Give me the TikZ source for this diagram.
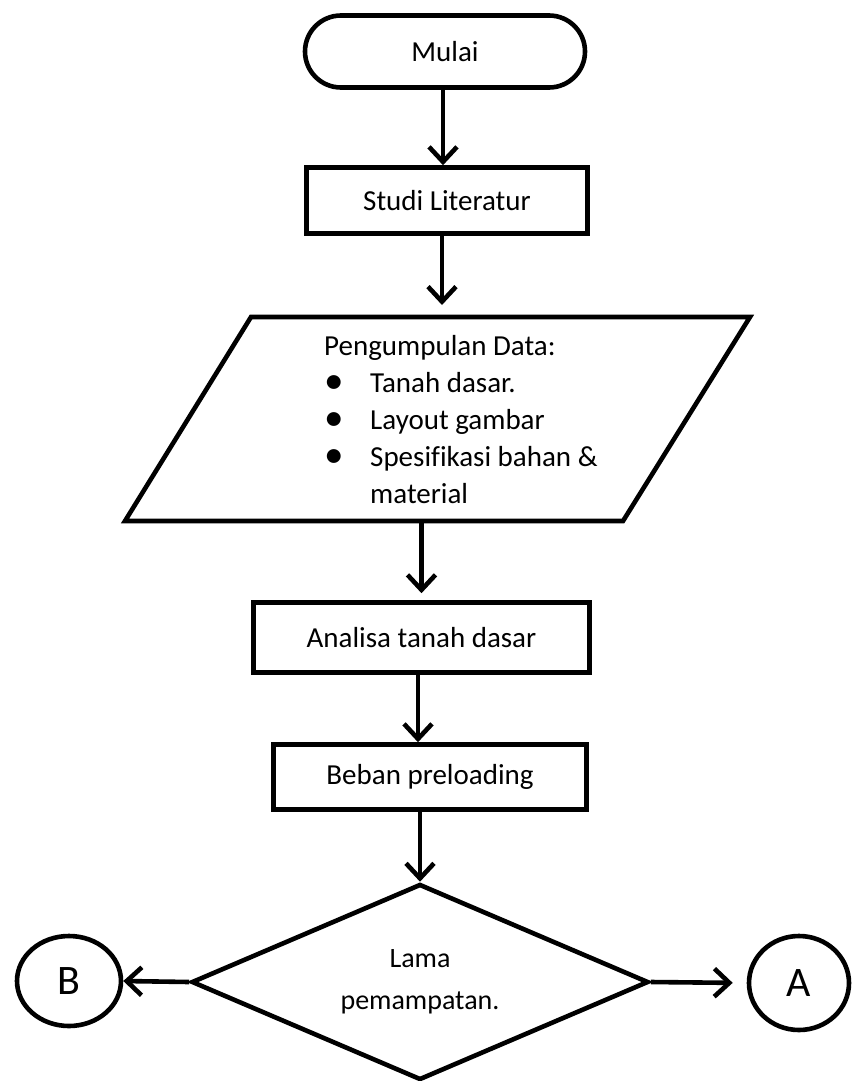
\documentclass[tikz,border=0pt]{standalone}
\usepackage{fontspec}
\setmainfont{Carlito}[Ligatures=NoCommon]
\usetikzlibrary{arrows.meta,shapes.geometric}
\newcommand{\bigbullet}{\raisebox{-0.05em}{\scalebox{1.35}{\textbullet}}}
\begin{document}
\begin{tikzpicture}[x=1pt,y=-1pt,
  every node/.style={font=\fontsize{29}{37}\selectfont},
  thick line/.style={line width=4.6pt},
  procbox/.style={draw, thick line, rectangle, inner sep=0pt},
  arr/.style={thick line, -{Straight Barb[length=15pt,width=28pt]}},
  ]
\useasboundingbox (0,0) rectangle (851,1081);

% start terminal
\node[procbox, rounded corners=36pt, minimum width=280pt, minimum height=72pt] (mulai) at (445,51.5) {Mulai};

% process boxes
\node[procbox, minimum width=281pt, minimum height=66pt] (studi) at (447,200.5) {Studi Literatur};
\node[procbox, minimum width=336pt, minimum height=70pt] (analisa) at (421.5,637.5) {Analisa tanah dasar};
\node[procbox, minimum width=313pt, minimum height=65pt] (beban) at (430,777) {Beban preloading};

% input/data parallelogram
\node[minimum width=372pt, minimum height=208pt, inner sep=0pt, outer sep=0pt] (para) at (437.25,419) {};
\draw[thick line] (251,317) -- (750,317) -- (623,521) -- (125,521) -- cycle;
\node[anchor=base west, inner sep=0pt] (paratext) at (324,355)
  {\begin{tabular}[t]{@{}p{46pt}@{}l@{}}
   \multicolumn{2}{@{}l@{}}{Pengumpulan Data:}\\
   \bigbullet & Tanah dasar.\\
   \bigbullet & Layout gambar\\
   \bigbullet & Spesifikasi bahan \&\\
              & material
   \end{tabular}};

% decision
\node[draw, thick line, diamond, aspect=2.3, minimum width=457pt, minimum height=196pt,
      inner sep=0pt, align=center, font=\fontsize{28}{42}\selectfont] (dia) at (420,982)
  {Lama\\pemampatan.};

% off-page connectors
\node[draw, thick line, ellipse, minimum width=104pt, minimum height=90pt, inner sep=0pt,
      font=\fontsize{42}{50}\selectfont] (B) at (69,981) {B};
\node[draw, thick line, ellipse, minimum width=100pt, minimum height=94pt, inner sep=0pt,
      font=\fontsize{42}{50}\selectfont] (A) at (799,983) {A};

% flow lines
\coordinate (m1) at ([xshift=-2pt]mulai.south);
\draw[arr] (m1) -- (m1 |- studi.north);
\coordinate (s1) at ([xshift=-5pt]studi.south);
\draw[arr, shorten >=10pt] (s1) -- (s1 |- para.north);
\draw[arr, shorten >=7pt] (analisa.north |- para.south) -- (analisa.north);
\coordinate (a1) at ([xshift=-3.5pt]analisa.south);
\draw[arr] (a1) -- (a1 |- beban.north);
\draw[arr] (dia.north |- beban.south) -- (dia.north);
\draw[arr] (dia.west) -- (B.east);
\draw[arr, shorten >=14pt] (dia.east) -- (A.west);
\end{tikzpicture}
\end{document}
